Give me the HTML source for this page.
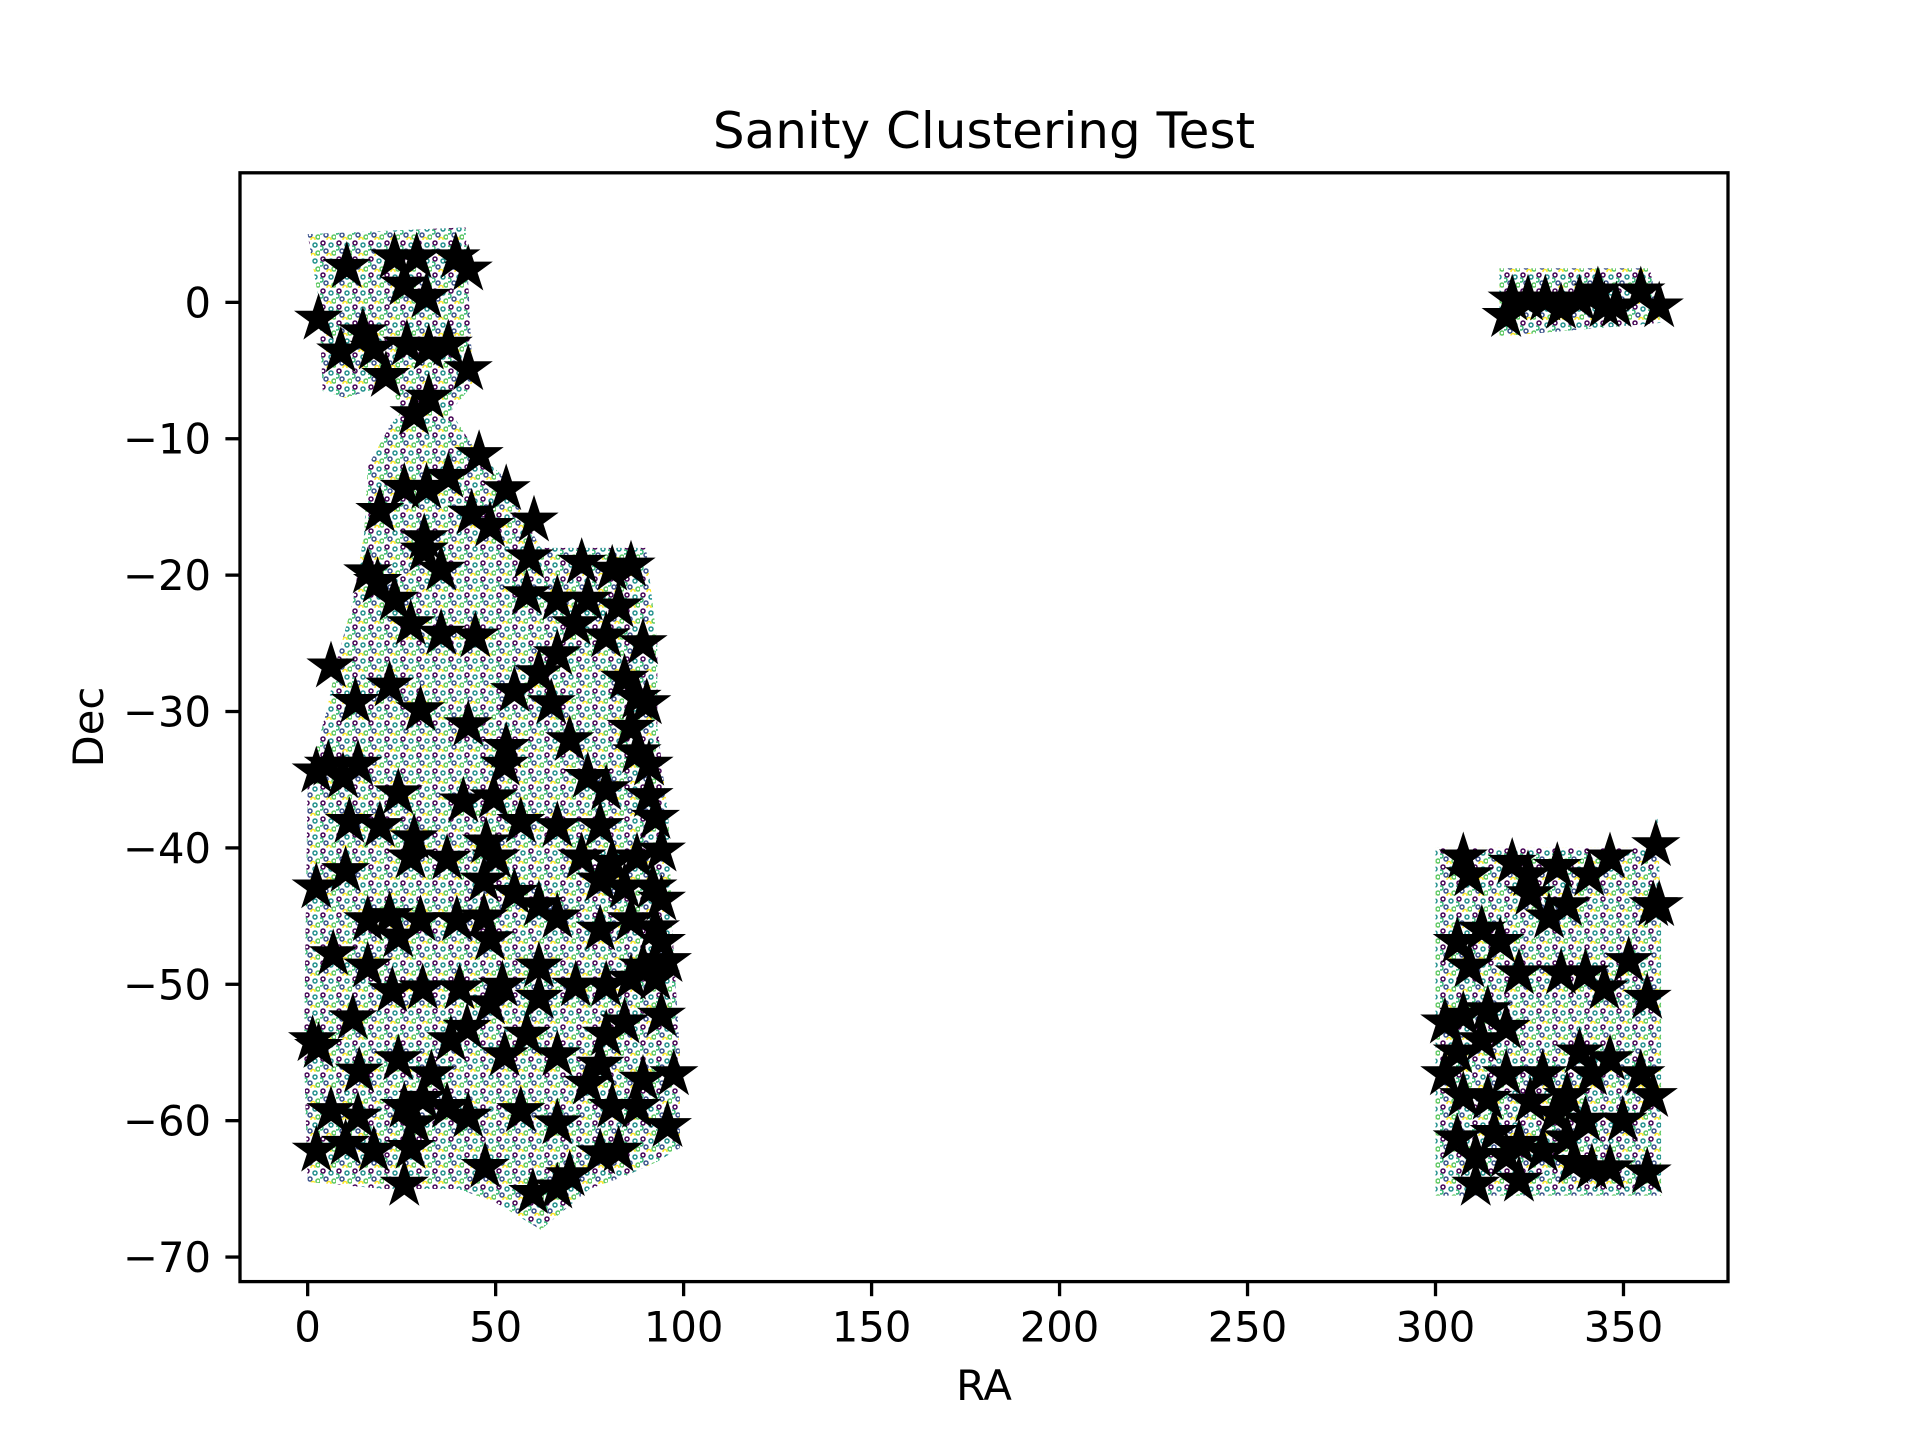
<!DOCTYPE html>
<html><head><meta charset="utf-8"><title>Sanity Clustering Test</title>
<style>
html,body{margin:0;padding:0;background:#fff;}
svg{display:block;font-family:"DejaVu Sans","Liberation Sans",sans-serif;}
</style></head>
<body>
<svg id="chart" width="1920" height="1440" viewBox="0 0 1920 1440" xmlns="http://www.w3.org/2000/svg">
<defs>
<pattern id="dots" patternUnits="userSpaceOnUse" width="16" height="16">
<circle cx="3" cy="3" r="2" fill="none" stroke="#440154" stroke-width="1.5"/>
<circle cx="11" cy="5" r="2" fill="none" stroke="#21908d" stroke-width="1.5"/>
<circle cx="6" cy="11" r="2" fill="none" stroke="#3b528b" stroke-width="1.5"/>
<circle cx="14" cy="13" r="2" fill="none" stroke="#5dc863" stroke-width="1.5"/>
<circle cx="9" cy="15.5" r="2" fill="none" stroke="#fde725" stroke-width="1.5"/>
<circle cx="1" cy="8" r="2" fill="none" stroke="#35b779" stroke-width="1.5"/>
</pattern>
</defs>
<g id="regions"></g>
<g id="stars"></g>
<rect x="240" y="172.8" width="1488" height="1108.8" fill="none" stroke="#000" stroke-width="3.3"/>
<g id="xticks"></g>
<g id="yticks"></g>
<text x="984" y="148" font-size="50" text-anchor="middle">Sanity Clustering Test</text>
<text x="984" y="1400" font-size="41.7" text-anchor="middle">RA</text>
<text x="0" y="0" font-size="41.7" text-anchor="middle" transform="translate(103,727) rotate(-90)">Dec</text>
</svg>
<script>
const xTicks = [0,50,100,150,200,250,300,350];
const yTicks = [0,-10,-20,-30,-40,-50,-60,-70];
const regionA = [[0,5],[42,5.5],[44,-6],[38,-8],[45,-11],[53,-13],[56,-15],[62,-18],[70,-18],[90,-18],[93,-25],[93,-31],[96,-38],[97,-46],[99,-55],[99,-62],[93,-63],[85,-64],[75,-65],[62,-68],[50,-66],[40,-65],[20,-65],[0,-64.5],[-1,-55],[0,-35],[5,-30],[8,-26],[12,-22],[15,-17],[16,-12],[22,-9],[25,-8],[22,-6],[10,-7],[4,-6.5],[3,0]];
const regionB = [[317,2.5],[357,2.5],[360,-1.5],[317,-2.5]];
const regionC = [[300,-40],[357,-40],[359,-37.5],[360,-45],[360,-65.5],[300,-65.5]];
const starRA = [10.4,23.1,29,39.4,42.7,25.7,31.6,2.9,14.7,8.8,17.6,26.4,32.2,37.4,42.7,20.8,32.2,28.3,45.6,19.2,25.7,31.6,37.4,52.8,43.6,48.5,60.2,31,16,18.6,58.9,35.5,31,23.1,27.4,35.5,44.6,58.3,72.9,81,86,66.4,74.5,82.7,71.3,89.2,79.4,6.2,21.8,12.7,30,61.5,66.4,55,64.8,84.3,87.6,90.2,86,42.7,69.7,52.8,2.3,5.5,13.4,9.4,52.4,87.6,90.8,74.5,79.4,90.8,24.1,41.4,49.5,11.1,19.2,56.7,66.4,77.8,92.5,28.3,27.4,37.1,47.5,50.1,72.9,81,87.6,94.1,2.3,10.1,46.9,55,61.5,66.4,77.8,84.3,91.8,94.1,16,21.8,30,39.7,46.9,24.1,48.5,77.8,86,92.5,94.1,6.8,16,95.7,89.2,61.5,22.5,30.6,40.4,51.8,71.3,79.4,86,92.5,61.5,48.5,12,94.1,38.1,42.4,58.3,79.4,84.3,1.3,2.9,52.4,66.4,24.1,77.8,13.7,32.9,97.4,74.5,89.2,30.6,6.2,13.4,25.7,37.1,42.7,56.7,81,87.6,28.6,66.4,95.7,2.3,10.1,17.6,27.4,77.8,82.7,25.7,47.2,59.9,66.4,69.7,
318.8,324.6,329.2,333.4,338.3,343.2,348.1,354.6,359.5,320.4,344.9,
307.4,309,320.4,324.6,332.4,340.9,346.4,358.6,325.2,335,305.8,312.3,317.2,330.2,357.9,359.5,309,322.2,333.4,339.9,344.9,351.4,356.3,302.5,307.4,313.9,318.8,312.3,305.8,338.3,346.4,302.5,318.8,328.5,341.6,354.6,307.4,313.9,325.2,335,357.9,331.8,339.9,349.8,305.8,315.6,322.2,335,310.7,318.8,328.5,336.7,341.6,346.4,356.3,310.7,322.2];
const starDec = [2.6,3.3,3.3,3.3,2.4,1.3,0.4,-1.2,-2.2,-3.6,-3.4,-3.1,-3.4,-3.1,-4.9,-5.4,-7,-8.2,-11.2,-15.3,-13.6,-13.6,-12.8,-13.7,-15.5,-16.4,-16,-17.3,-19.8,-20.5,-18.7,-19.6,-18.2,-21.8,-23.6,-24.3,-24.5,-21.4,-19.1,-19.6,-19.3,-21.8,-21.8,-22.3,-23.6,-25,-24.5,-26.7,-28.1,-29.3,-29.9,-27.2,-25.8,-28.5,-29.4,-27.6,-29,-29.4,-31.2,-31,-32.1,-32.6,-34.4,-33.9,-33.9,-34.8,-33.9,-33,-33.9,-34.8,-35.7,-36.2,-36,-36.6,-36.3,-38.1,-38.4,-38.1,-38.4,-38.4,-37.8,-39.3,-40.7,-40.8,-39.6,-40.7,-40.7,-41.1,-40.7,-40.2,-42.9,-41.7,-42.4,-43.3,-44.2,-45.1,-42.4,-42.9,-42.9,-43.8,-45.3,-45,-45.3,-45.3,-45.1,-46.5,-46.7,-46,-45.3,-45.9,-46.9,-47.8,-48.7,-48.3,-48.7,-48.7,-50.5,-50.3,-50.3,-50.1,-50.1,-50.1,-49.6,-49.6,-51,-51.4,-52.5,-52.3,-54.1,-53.2,-53.7,-53.7,-52.8,-54.1,-54.6,-55.2,-55.2,-55.5,-55.9,-56.4,-56.6,-56.6,-57.3,-57,-58.4,-59.3,-59.7,-59,-59,-59.7,-59.3,-59,-59,-60.2,-60.2,-60.4,-62.2,-61.7,-62.2,-62,-62.4,-62.2,-64.7,-63.4,-65.3,-64.9,-64,
-1,0.2,0.2,-0.4,0.2,0.8,-0.3,0.8,-0.3,0.2,-0.3,
-40.7,-42,-41.1,-42,-41.4,-42,-40.7,-39.8,-43.4,-44.2,-46.9,-46,-46.9,-45.1,-44.2,-44.2,-48.7,-49.2,-49.2,-49.2,-50.3,-48.3,-51,-52.8,-52.3,-51.9,-53.2,-54.1,-55,-55,-55.5,-56.6,-56.6,-56.6,-56.6,-56.6,-58.2,-58.4,-58.6,-58.2,-58.2,-59.5,-60,-60,-61.3,-60.9,-61.7,-61.3,-62.6,-62.6,-62.2,-63.1,-63.5,-63.5,-63.8,-64.7,-64.4];

const NS = 'http://www.w3.org/2000/svg';
const X0 = 240, X1 = 1728, Y0 = 172.8, Y1 = 1281.6;
const xMin = -18, xMax = 377.8, yMin = -71.8, yMax = 9.5;
const sx = v => X0 + (v - xMin) / (xMax - xMin) * (X1 - X0);
const sy = v => Y1 - (v - yMin) / (yMax - yMin) * (Y1 - Y0);
function mk(tag, attrs, parent){ const e = document.createElementNS(NS, tag); for (const k in attrs) e.setAttribute(k, attrs[k]); parent.appendChild(e); return e; }

const rg = document.getElementById('regions');
[regionA, regionB, regionC].forEach((r, i) => {
  const p = mk('polygon', {points: r.map(q => sx(q[0]) + ',' + sy(q[1])).join(' '), fill: 'url(#dots)'}, rg);
  
  
});

const sg = document.getElementById('stars');
function starPath(cx, cy, R){
  const r = R * 0.381966; let d = '';
  for (let i = 0; i < 10; i++){
    const a = -Math.PI/2 + i * Math.PI/5, rr = i % 2 ? r : R;
    d += (i ? 'L' : 'M') + (cx + rr*Math.cos(a)).toFixed(1) + ',' + (cy + rr*Math.sin(a)).toFixed(1);
  }
  return d + 'Z';
}
starRA.forEach((ra, i) => {
  const s = mk('path', {d: starPath(sx(ra), sy(starDec[i]), 21), fill: '#000', stroke: '#000', 'stroke-width': 3, 'stroke-linejoin': 'miter'}, sg);
  
  
});

const xg = document.getElementById('xticks');
xTicks.forEach(t => {
  const x = sx(t);
  const l = mk('line', {x1: x, x2: x, y1: Y1, y2: Y1 + 14.6, stroke: '#000', 'stroke-width': 3.3}, xg);
  
  
  const tx = mk('text', {x: x, y: Y1 + 60, 'font-size': 41.7, 'text-anchor': 'middle'}, xg);
  tx.textContent = String(t);
  
  
});
const yg = document.getElementById('yticks');
yTicks.forEach(t => {
  const y = sy(t);
  const l = mk('line', {x1: X0 - 14.6, x2: X0, y1: y, y2: y, stroke: '#000', 'stroke-width': 3.3}, yg);
  
  
  const tx = mk('text', {x: X0 - 29, y: y + 15, 'font-size': 41.7, 'text-anchor': 'end'}, yg);
  tx.textContent = t < 0 ? '\u2212' + Math.abs(t) : String(t);
  
  
});
</script>
</body></html>
